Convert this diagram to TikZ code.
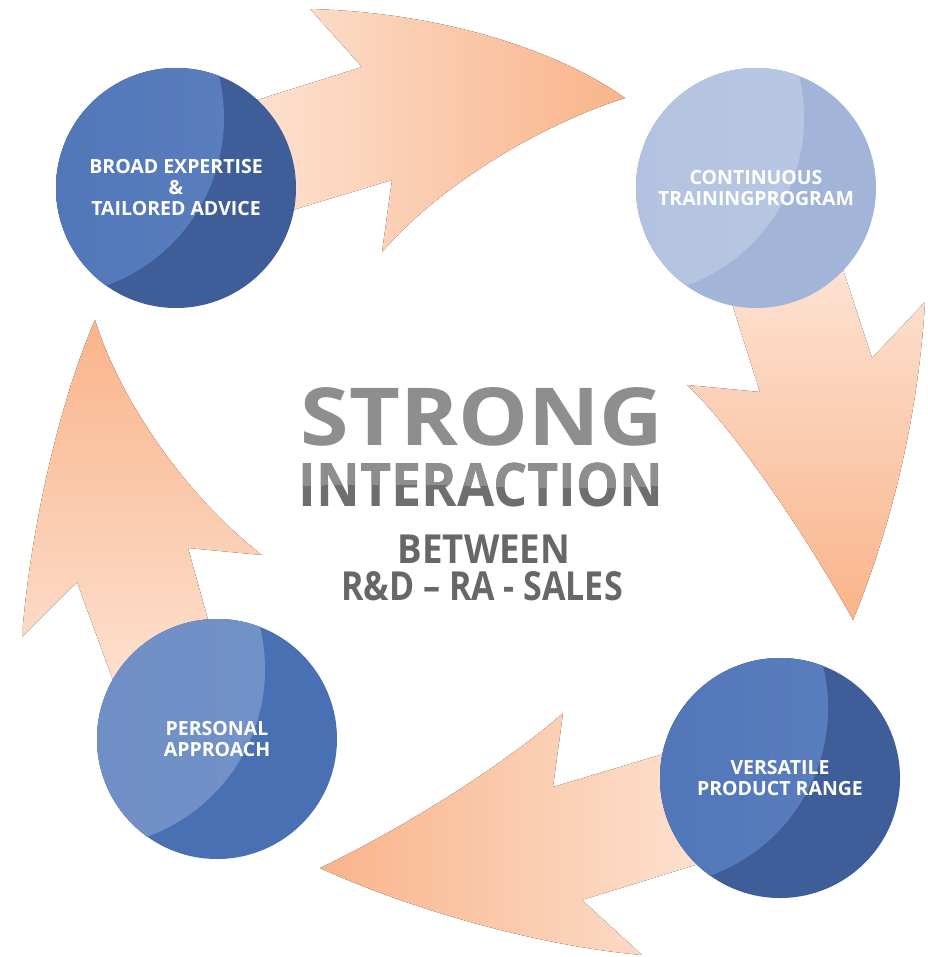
\documentclass[tikz,border=0pt]{standalone}
\usepackage{fontspec}
\setmainfont{Open Sans}
\usepackage{tikz}
\usetikzlibrary{calc}
\definecolor{peachlight}{HTML}{FDE7DA}
\definecolor{peachdark}{HTML}{F9B48A}
\definecolor{navyblue}{HTML}{3F5E99}
\definecolor{navyshine}{HTML}{5C80BF}
\definecolor{paleblue}{HTML}{A2B4D7}
\definecolor{paleshine}{HTML}{BACAE5}
\definecolor{midblue}{HTML}{4A70B4}
\definecolor{midshine}{HTML}{7392C9}
\definecolor{graylight}{HTML}{8E8E8E}
\definecolor{graydark}{HTML}{6E6E6E}
\definecolor{graytext}{HTML}{676767}
\tikzstyle{bubble} = [circle, minimum size=240pt, inner sep=0pt, text=white, align=center, font=\bfseries\fontsize{19.5}{21}\selectfont]
\tikzstyle{flow} = [draw=none]
\tikzstyle{headline} = [anchor=base, inner sep=0pt, font=\bfseries]
\tikzset{gloss/.style 2 args={path picture={\fill[left color=#1, right color=#2] ([shift={(-130pt,70pt)}]path picture bounding box.center) circle[radius=178pt];}}}

\begin{document}
\begin{tikzpicture}[x=1pt, y=-1pt]
    \useasboundingbox (0,0) rectangle (927,957);

    % curved arrows between the circles
    \fill[flow, left color=peachlight, right color=peachdark] (203,117) -- (362,67) -- (310,9) .. controls (430,12) and (550,45) .. (625,98) .. controls (540,125) and (440,185) .. (382,252) -- (392,180) -- (233,228) -- cycle;
    \fill[flow, top color=peachlight, bottom color=peachdark] (715,250) -- (760,392) -- (687,385) .. controls (730,425) and (800,525) .. (853,620) .. controls (890,530) and (918,420) .. (925,302) -- (872,358) -- (830,230) -- cycle;
    \fill[flow, right color=peachlight, left color=peachdark] (720,737) -- (553,787) -- (563,713) .. controls (510,760) and (410,825) .. (320,868) .. controls (400,905) and (530,945) .. (642,955) -- (582,900) -- (760,845) -- cycle;
    \fill[flow, bottom color=peachlight, top color=peachdark] (95,320) .. controls (120,400) and (185,495) .. (262,555) -- (188,548) -- (222,670) -- (135,740) -- (77,582) -- (22,637) .. controls (30,530) and (60,400) .. (95,320) -- cycle;

    % circles
    \node[bubble, fill=navyblue, gloss={midblue}{navyshine}] (expertise) at (176,188) {BROAD EXPERTISE\\\&\\TAILORED ADVICE};
    \node[bubble, fill=paleblue, gloss={paleblue!90!white}{paleshine}] (training) at (756,188) {CONTINUOUS\\TRAININGPROGRAM};
    \node[bubble, fill=navyblue, gloss={midblue}{navyshine}] (range) at (780,778) {VERSATILE\\PRODUCT RANGE};
    \node[bubble, fill=midblue, gloss={midblue!80!white}{midshine}] (approach) at (217,739) {PERSONAL\\APPROACH};

    % centre text
    \node[headline, text=graylight, font=\bfseries\fontsize{80}{80}\selectfont, xscale=1.1] (strong) at (482,445) {STRONG};
    \node[headline, text=graydark, font=\bfseries\fontsize{60}{60}\selectfont, xscale=0.9] (interaction) at (481,506) {INTERACTION};
    \begin{scope}
        \clip (280,440) -- (680,440) -- (680,484) .. controls (560,494) and (420,478) .. (280,487) -- cycle;
        \node[headline, text=graylight, font=\bfseries\fontsize{60}{60}\selectfont, xscale=0.9] (interactionhi) at (481,506) {INTERACTION};
    \end{scope}
    \node[headline, text=graytext, font=\bfseries\fontsize{40}{40}\selectfont, xscale=0.915] (between) at (484,563) {BETWEEN};
    \node[headline, text=graytext, font=\bfseries\fontsize{40}{40}\selectfont, xscale=0.85] (depts) at (482,600) {R\&D – RA - SALES};
\end{tikzpicture}
\end{document}
